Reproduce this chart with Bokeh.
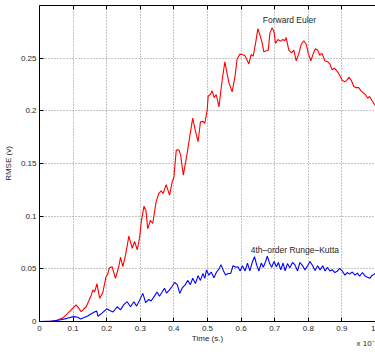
from bokeh.plotting import figure
from bokeh.models import FixedTicker, LinearAxis, Label, Range1d
from bokeh.embed import file_html
from bokeh.resources import INLINE

# ---- data (time in units of 1e-5 s) ----
euler_t = [0, 0.03, 0.05, 0.07, 0.089, 0.1, 0.109, 0.117, 0.124, 0.139, 0.154, 0.159, 0.164,
           0.171, 0.179, 0.188, 0.198, 0.203, 0.208, 0.216, 0.226, 0.236, 0.241, 0.248, 0.256,
           0.266, 0.276, 0.283, 0.291, 0.298, 0.303, 0.311, 0.317, 0.322, 0.330, 0.337, 0.347,
           0.355, 0.362, 0.368, 0.377, 0.387, 0.395, 0.400, 0.407, 0.415, 0.420, 0.428, 0.4375,
           0.447, 0.456, 0.464, 0.472, 0.479, 0.487, 0.492, 0.499, 0.502, 0.509, 0.514, 0.520,
           0.526, 0.534, 0.544, 0.5516, 0.5635, 0.5734, 0.582, 0.588, 0.596, 0.602, 0.611, 0.618,
           0.623, 0.630, 0.636, 0.643, 0.650, 0.658, 0.663, 0.6676, 0.675, 0.681, 0.6856, 0.6925,
           0.698, 0.7024, 0.710, 0.717, 0.724, 0.730, 0.734, 0.742, 0.750, 0.757, 0.764, 0.772,
           0.779, 0.7867, 0.794, 0.800, 0.8075, 0.815, 0.821, 0.828, 0.834, 0.841, 0.849, 0.858,
           0.864, 0.871, 0.878, 0.886, 0.893, 0.901, 0.909, 0.914, 0.921, 0.928, 0.935, 0.942,
           0.950, 0.957, 0.964, 0.971, 0.977, 0.982, 0.989, 1.0]
euler_rmse = [0, 0.0003, 0.001, 0.0035, 0.0093, 0.013, 0.0157, 0.0125, 0.0093, 0.014, 0.025, 0.030, 0.028,
              0.036, 0.022, 0.027, 0.0425, 0.045, 0.051, 0.052, 0.041, 0.052, 0.061, 0.052, 0.063,
              0.081, 0.0695, 0.076, 0.068, 0.080, 0.095, 0.1095, 0.105, 0.088, 0.096, 0.093, 0.1135,
              0.1215, 0.124, 0.1215, 0.130, 0.120, 0.1326, 0.137, 0.1627, 0.163, 0.158, 0.139, 0.156,
              0.175, 0.193, 0.181, 0.1706, 0.1896, 0.190, 0.188, 0.2007, 0.214, 0.2157, 0.219, 0.2125,
              0.2155, 0.2038, 0.230, 0.2465, 0.227, 0.218, 0.233, 0.249, 0.2538, 0.2535, 0.2525, 0.248,
              0.2445, 0.2535, 0.252, 0.264, 0.278, 0.270, 0.264, 0.256, 0.257, 0.2576, 0.2735, 0.279,
              0.275, 0.264, 0.2677, 0.266, 0.2677, 0.2665, 0.2696, 0.2576, 0.255, 0.2576, 0.2475, 0.2545,
              0.263, 0.2665, 0.263, 0.2545, 0.2475, 0.2545, 0.259, 0.2576, 0.2528, 0.2545, 0.2475, 0.2465,
              0.2445, 0.239, 0.2405, 0.2375, 0.234, 0.2291, 0.2275, 0.229, 0.2317, 0.229, 0.2233, 0.222,
              0.222, 0.219, 0.217, 0.215, 0.212, 0.2136, 0.210, 0.2045]

rk4_t = [0, 0.04, 0.06, 0.082, 0.102, 0.114, 0.122, 0.142, 0.162, 0.170, 0.174, 0.186, 0.200,
         0.209, 0.219, 0.231, 0.241, 0.251, 0.261, 0.271, 0.281, 0.289, 0.299, 0.3075, 0.316,
         0.325, 0.332, 0.344, 0.350, 0.357, 0.365, 0.372, 0.378, 0.387, 0.395, 0.402, 0.410,
         0.4176, 0.425, 0.434, 0.441, 0.449, 0.456, 0.464, 0.472, 0.479, 0.486, 0.492, 0.497,
         0.504, 0.511, 0.519, 0.527, 0.534, 0.540, 0.547, 0.554, 0.561, 0.569, 0.576, 0.584,
         0.591, 0.597, 0.604, 0.612, 0.619, 0.626, 0.634, 0.640, 0.646, 0.653, 0.660, 0.666,
         0.673, 0.678, 0.685, 0.691, 0.698, 0.705, 0.711, 0.718, 0.725, 0.731, 0.738, 0.745,
         0.753, 0.760, 0.768, 0.775, 0.783, 0.790, 0.798, 0.805, 0.813, 0.820, 0.828, 0.835,
         0.843, 0.850, 0.857, 0.864, 0.872, 0.879, 0.887, 0.893, 0.901, 0.909, 0.916, 0.923,
         0.931, 0.939, 0.946, 0.953, 0.961, 0.968, 0.976, 0.983, 0.989, 0.996, 1.0]
rk4_rmse = [0, 0.0005, 0.0015, 0.003, 0.0046, 0.004, 0.0024, 0.005, 0.0087, 0.010, 0.005, 0.008, 0.012,
            0.0105, 0.009, 0.014, 0.011, 0.016, 0.0188, 0.014, 0.0188, 0.0146, 0.021, 0.0267, 0.018,
            0.021, 0.0195, 0.025, 0.028, 0.024, 0.028, 0.0315, 0.027, 0.030, 0.0335, 0.037, 0.035,
            0.0267, 0.032, 0.035, 0.039, 0.035, 0.041, 0.036, 0.0435, 0.039, 0.0455, 0.041, 0.0489,
            0.044, 0.047, 0.0415, 0.047, 0.0497, 0.054, 0.0485, 0.044, 0.0455, 0.0455, 0.053, 0.0515,
            0.052, 0.048, 0.053, 0.048, 0.0555, 0.048, 0.057, 0.0615, 0.054, 0.048, 0.0555, 0.0515,
            0.057, 0.062, 0.055, 0.0515, 0.057, 0.052, 0.056, 0.049, 0.0555, 0.048, 0.055, 0.051,
            0.056, 0.054, 0.048, 0.056, 0.053, 0.049, 0.053, 0.057, 0.053, 0.0485, 0.053, 0.049,
            0.053, 0.048, 0.0515, 0.048, 0.049, 0.0465, 0.048, 0.0505, 0.048, 0.044, 0.0465, 0.045,
            0.047, 0.044, 0.046, 0.043, 0.0465, 0.0435, 0.042, 0.041, 0.0435, 0.045, 0.046]

x_ticks = [0, 0.1, 0.2, 0.3, 0.4, 0.5, 0.6, 0.7, 0.8, 0.9, 1.0]
x_tick_labels = ["0", "0.1", "0.2", "0.3", "0.4", "0.5", "0.6", "0.7", "0.8", "0.9", "1"]
y_ticks = [0, 0.05, 0.1, 0.15, 0.2, 0.25]
y_tick_labels = ["0", "0.05", "0.1", "0.15", "0.2", "0.25"]

FONT = "Liberation Sans"
TXT = "#262626"

p = figure(width=375, height=354, output_backend="svg", toolbar_location=None,
           x_range=Range1d(0, 1), y_range=Range1d(0, 0.3),
           min_border_left=39, min_border_right=0, min_border_top=5, min_border_bottom=32,
           background_fill_color="white", border_fill_color="white")
p.outline_line_color = None

p.line(euler_t, euler_rmse, line_color="#ff0000", line_width=1.1)
p.line(rk4_t, rk4_rmse, line_color="#0000ff", line_width=1.1)

for ax in (p.xaxis[0], p.yaxis[0]):
    ax.axis_line_color = "black"
    ax.axis_line_width = 1
    ax.major_tick_in = 4
    ax.major_tick_out = 0
    ax.major_tick_line_color = "black"
    ax.minor_tick_line_color = None
    ax.major_label_text_font = FONT
    ax.major_label_text_font_size = "8px"
    ax.major_label_text_color = TXT
    ax.major_label_text_line_height = 1.0
    ax.axis_label_text_font = FONT
    ax.axis_label_text_font_size = "8px"
    ax.axis_label_text_color = TXT
    ax.axis_label_text_font_style = "normal"
    ax.axis_label_text_line_height = 1.0

p.xaxis[0].ticker = FixedTicker(ticks=x_ticks)
p.xaxis[0].major_label_overrides = dict(zip(x_ticks, x_tick_labels))
p.xaxis[0].axis_label = "Time (s.)"
p.xaxis[0].major_label_standoff = 4
p.xaxis[0].axis_label_standoff = 0

p.yaxis[0].ticker = FixedTicker(ticks=y_ticks)
p.yaxis[0].major_label_overrides = dict(zip(y_ticks, y_tick_labels))
p.yaxis[0].axis_label = "RMSE (v)"
p.yaxis[0].major_label_standoff = 3
p.yaxis[0].axis_label_standoff = 5

top = LinearAxis(ticker=FixedTicker(ticks=x_ticks), major_label_text_font_size="0px",
                 major_label_text_color=None,
                 major_label_standoff=0, major_tick_in=4, major_tick_out=0,
                 axis_line_color="black", major_tick_line_color="black",
                 minor_tick_line_color=None)
p.add_layout(top, "above")

for g in (p.xgrid[0], p.ygrid[0]):
    g.grid_line_color = "#8a8a8a"
    g.grid_line_dash = "1 2"
    g.grid_line_width = 1
p.xgrid[0].ticker = FixedTicker(ticks=x_ticks)
p.ygrid[0].ticker = FixedTicker(ticks=y_ticks)

p.add_layout(Label(x=0.744, y=0.286, text="Forward Euler", text_font=FONT,
                   text_font_size="8.5px", text_color=TXT, text_align="center",
                   text_baseline="middle"))
p.add_layout(Label(x=0.76, y=0.0675, text="4th\u2013order Runge\u2013Kutta", text_font=FONT,
                   text_font_size="8.5px", text_color=TXT, text_align="center",
                   text_baseline="middle"))
p.add_layout(Label(x=317, y=11, x_units="screen", y_units="screen", text="x 10\u207b\u2075",
                   text_font=FONT, text_font_size="8px", text_color=TXT, text_align="left",
                   text_baseline="middle", text_line_height=1.0), "below")

open("out.html", "w").write(file_html(p, INLINE))
